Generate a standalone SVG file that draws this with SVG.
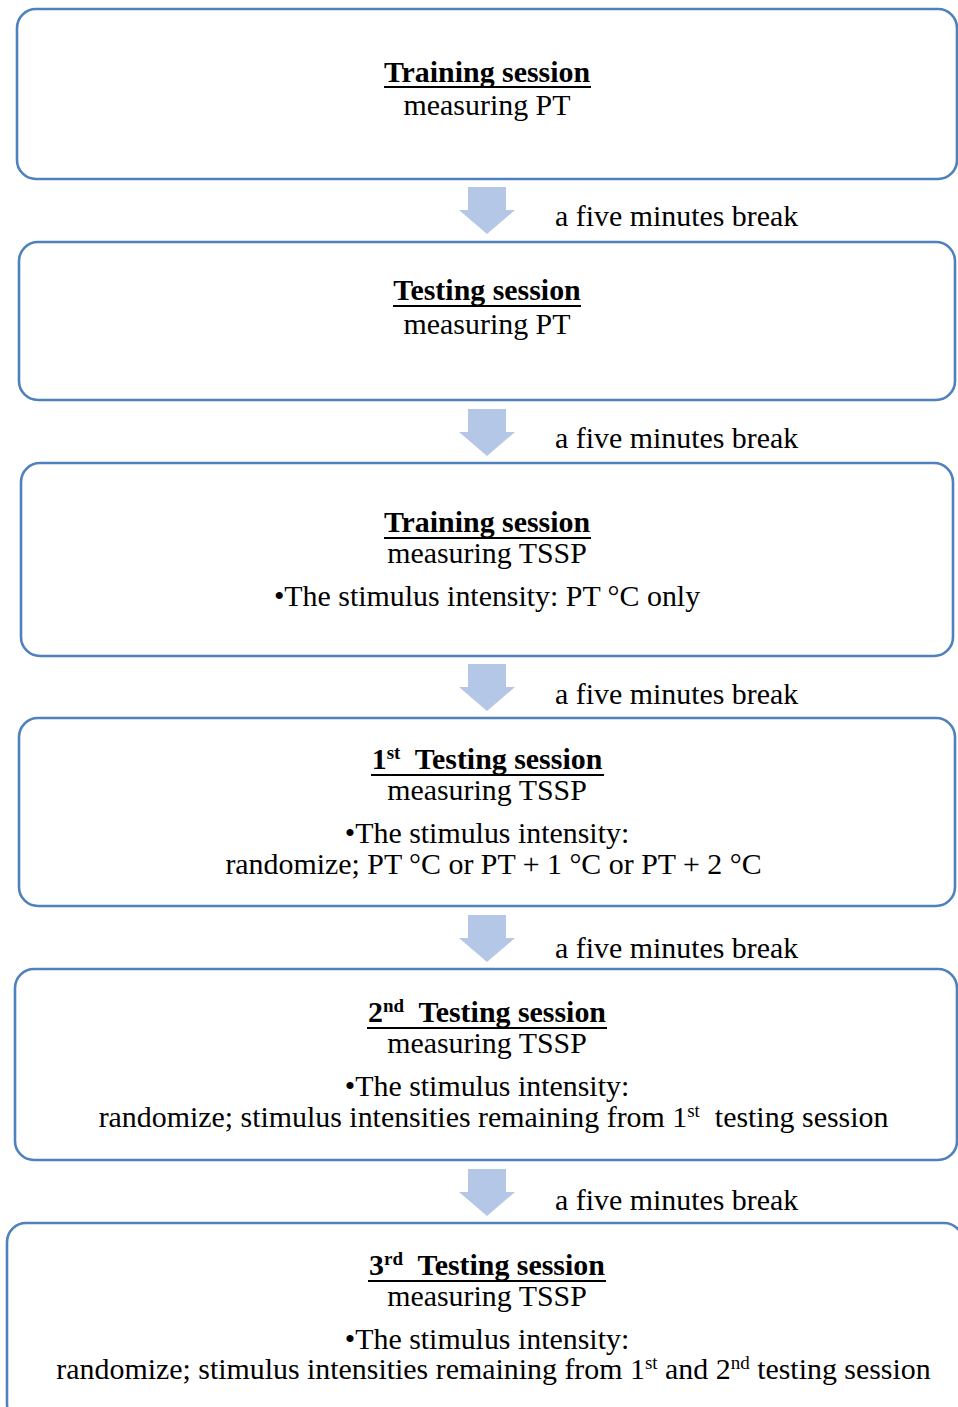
<svg xmlns="http://www.w3.org/2000/svg" width="958" height="1407" viewBox="0 0 958 1407">
<style>
.box{fill:#fff;stroke:#4f81bd;stroke-width:2.6}
.t{font-family:"Liberation Serif","Times New Roman",serif;font-size:29.9px;fill:#000;text-anchor:middle;white-space:pre}
.b{font-weight:bold}
.ul{stroke:#000;stroke-width:2}
.arr{fill:#b4c7e7}
.lab{font-family:"Liberation Serif","Times New Roman",serif;font-size:29.9px;fill:#000}
</style>
<defs>
<path id="downArrow" class="arr" d="M-19,0 H19 V23 H28 L0,47 L-28,23 H-19 Z"/>
</defs>
<rect width="958" height="1407" fill="#fff"/>
<g id="connectors">
<use href="#downArrow" x="487" y="187"/>
<text class="lab" x="555" y="226">a five minutes break</text>
<use href="#downArrow" x="487" y="409"/>
<text class="lab" x="555" y="448">a five minutes break</text>
<use href="#downArrow" x="487" y="664"/>
<text class="lab" x="555" y="704">a five minutes break</text>
<use href="#downArrow" x="487" y="915"/>
<text class="lab" x="555" y="958">a five minutes break</text>
<use href="#downArrow" x="487" y="1169"/>
<text class="lab" x="555" y="1210">a five minutes break</text>
</g>
<g id="node1">
<rect class="box" x="17" y="9" width="940" height="170" rx="19"/>
<text class="t b" x="487" y="82">Training session</text>
<line class="ul" x1="384" y1="87" x2="591" y2="87"/>
<text class="t" x="487" y="115">measuring PT</text>
</g>
<g id="node2">
<rect class="box" x="19" y="242" width="936" height="158" rx="19"/>
<text class="t b" x="487" y="300">Testing session</text>
<line class="ul" x1="393" y1="306" x2="581" y2="306"/>
<text class="t" x="487" y="334">measuring PT</text>
</g>
<g id="node3">
<rect class="box" x="21" y="463" width="932" height="193" rx="19"/>
<text class="t b" x="487" y="532">Training session</text>
<line class="ul" x1="384" y1="538" x2="591" y2="538"/>
<text class="t" x="487" y="563">measuring TSSP</text>
<text class="t" x="487" y="606">•The stimulus intensity: PT °C only</text>
</g>
<g id="node4">
<rect class="box" x="19" y="718" width="936" height="188" rx="19"/>
<text class="t b" x="487" y="769">1<tspan font-size="19" dy="-10">st</tspan><tspan dy="10">  Testing session</tspan></text>
<line class="ul" x1="371" y1="775" x2="604" y2="775"/>
<text class="t" x="487" y="800">measuring TSSP</text>
<text class="t" x="487" y="843">•The stimulus intensity:</text>
<text class="t" x="493.5" y="874">randomize; PT °C or PT + 1 °C or PT + 2 °C</text>
</g>
<g id="node5">
<rect class="box" x="15" y="969" width="942" height="191" rx="19"/>
<text class="t b" x="487" y="1022">2<tspan font-size="19" dy="-10">nd</tspan><tspan dy="10">  Testing session</tspan></text>
<line class="ul" x1="367" y1="1028" x2="607" y2="1028"/>
<text class="t" x="487" y="1053">measuring TSSP</text>
<text class="t" x="487" y="1096">•The stimulus intensity:</text>
<text class="t" x="493.5" y="1127">randomize; stimulus intensities remaining from 1<tspan font-size="19" dy="-10">st</tspan><tspan dy="10">  testing session</tspan></text>
</g>
<g id="node6">
<rect class="box" x="7" y="1223" width="956" height="200" rx="19"/>
<text class="t b" x="487" y="1275">3<tspan font-size="19" dy="-10">rd</tspan><tspan dy="10">  Testing session</tspan></text>
<line class="ul" x1="368" y1="1281" x2="606" y2="1281"/>
<text class="t" x="487" y="1306">measuring TSSP</text>
<text class="t" x="487" y="1349">•The stimulus intensity:</text>
<text class="t" x="493.5" y="1379">randomize; stimulus intensities remaining from 1<tspan font-size="19" dy="-10">st</tspan><tspan dy="10"> and 2</tspan><tspan font-size="19" dy="-10">nd</tspan><tspan dy="10"> testing session</tspan></text>
</g>
</svg>
